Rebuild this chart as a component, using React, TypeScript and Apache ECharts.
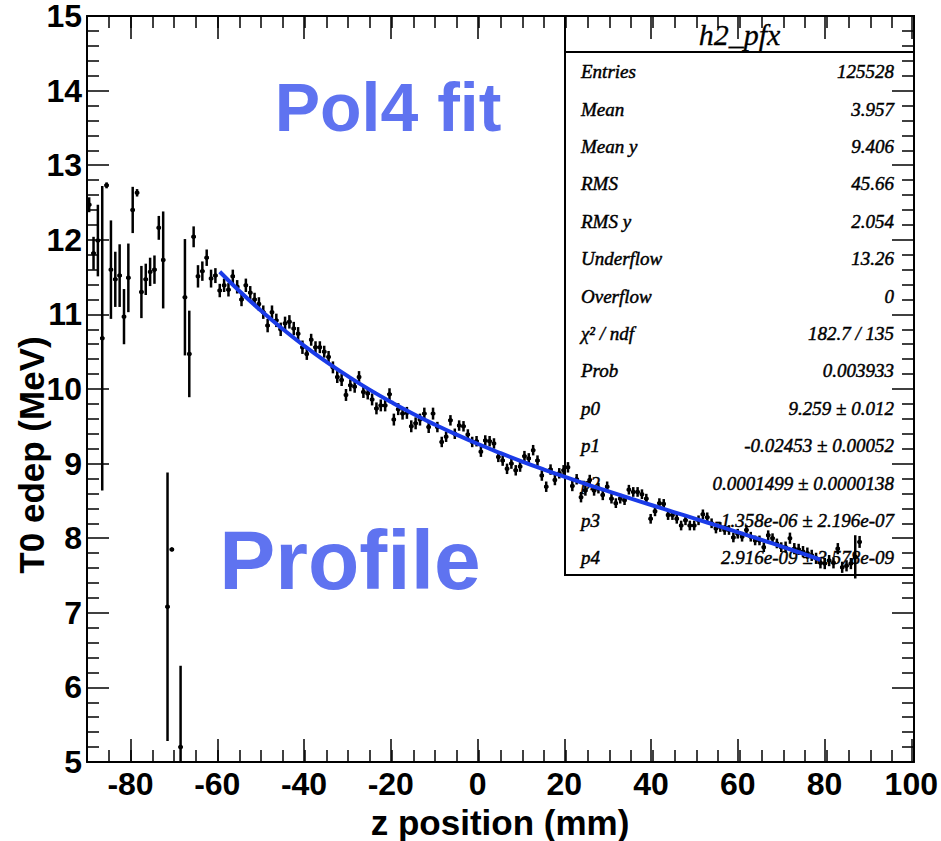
import React, { useEffect, useRef } from 'react';
import * as echarts from 'echarts';

// Profile bins (bin centre, mean, error)
const binX = [
  -89.5, -88.5, -87.5, -86.5, -85.5, -84.5, -83.5, -82.5, -81.5, -80.5,
  -79.5, -78.5, -77.5, -76.5, -75.5, -74.5, -73.5, -72.5, -71.5, -70.5,
  -68.5, -67.5, -66.5, -65.5, -64.5, -63.5, -62.5, -61.5, -60.5,
  -59.5, -58.5, -57.5, -56.5, -55.5, -54.5, -53.5, -52.5, -51.5, -50.5,
  -49.5, -48.5, -47.5, -46.5, -45.5, -44.5, -43.5, -42.5, -41.5, -40.5,
  -39.5, -38.5, -37.5, -36.5, -35.5, -34.5, -33.5, -32.5, -31.5, -30.5,
  -29.5, -28.5, -27.5, -26.5, -25.5, -24.5, -23.5, -22.5, -21.5, -20.5,
  -19.5, -18.5, -17.5, -16.5, -15.5, -14.5, -13.5, -12.5, -11.5, -10.5,
  -9.5, -8.5, -7.5, -6.5, -5.5, -4.5, -3.5, -2.5, -1.5, -0.5,
  0.5, 1.5, 2.5, 3.5, 4.5, 5.5, 6.5, 7.5, 8.5, 9.5,
  10.5, 11.5, 12.5, 13.5, 14.5, 15.5, 16.5, 17.5, 18.5, 19.5,
  20.5, 21.5, 22.5, 23.5, 24.5, 25.5, 26.5, 27.5, 28.5, 29.5,
  30.5, 31.5, 32.5, 33.5, 34.5, 35.5, 36.5, 37.5, 38.5, 39.5,
  40.5, 41.5, 42.5, 43.5, 44.5, 45.5, 46.5, 47.5, 48.5, 49.5,
  50.5, 51.5, 52.5, 53.5, 54.5, 55.5, 56.5, 57.5, 58.5, 59.5,
  60.5, 61.5, 62.5, 63.5, 64.5, 65.5, 66.5, 67.5, 68.5, 69.5,
  70.5, 71.5, 72.5, 73.5, 74.5, 75.5, 76.5, 77.5, 78.5, 79.5,
  80.5, 81.5, 82.5, 83.5, 84.5, 85.5, 86.5, 87.5,
];
const binY = [
  12.47, 11.82, 11.99, 10.68, 12.73, 11.60, 11.47, 11.52, 10.97, 11.49,
  12.40, 12.63, 11.30, 11.47, 11.57, 11.60, 12.16, 11.73, 7.08, 7.85,
  5.20, 11.23, 10.47, 12.04, 11.51, 11.58, 11.76, 11.48, 11.52,
  11.32, 11.39, 11.33, 11.51, 11.37, 11.20, 11.39, 11.29, 11.20, 11.14,
  11.03, 10.85, 11.03, 10.92, 10.80, 10.88, 10.90, 10.81, 10.74, 10.56,
  10.47, 10.66, 10.56, 10.56, 10.50, 10.43, 10.29, 10.16, 10.12, 9.92,
  10.05, 10.03, 10.16, 9.96, 9.94, 9.86, 9.74, 9.78, 9.78, 9.93,
  9.59, 9.73, 9.67, 9.68, 9.50, 9.54, 9.59, 9.67, 9.49, 9.67,
  9.49, 9.29, 9.36, 9.58, 9.40, 9.51, 9.50, 9.39, 9.29, 9.30,
  9.16, 9.31, 9.30, 9.27, 9.09, 9.04, 8.93, 9.00, 8.91, 8.96,
  9.10, 9.07, 9.18, 9.04, 8.84, 8.69, 8.92, 8.78, 8.87, 8.91,
  8.95, 8.70, 8.79, 8.55, 8.64, 8.78, 8.64, 8.67, 8.58, 8.69,
  8.53, 8.47, 8.53, 8.51, 8.65, 8.62, 8.62, 8.59, 8.53, 8.26,
  8.36, 8.47, 8.46, 8.31, 8.31, 8.26, 8.17, 8.24, 8.17, 8.17,
  8.24, 8.32, 8.28, 8.20, 8.13, 8.15, 8.11, 8.11, 8.01, 8.06,
  8.02, 8.11, 8.02, 7.97, 7.97, 7.88, 8.04, 8.00, 7.93, 7.88,
  7.88, 8.00, 7.86, 7.85, 7.82, 7.80, 7.77, 7.73, 7.67, 7.66,
  7.70, 7.67, 7.86, 7.61, 7.63, 7.66, 7.75, 7.95,
];
const binErr = [
  0.10, 0.22, 0.48, 2.04, 0.04, 0.66, 0.37, 0.42, 0.37, 0.46,
  0.31, 0.05, 0.35, 0.21, 0.19, 0.19, 0.16, 0.65, 1.80, 0.02,
  1.09, 0.78, 0.58, 0.14, 0.15, 0.13, 0.11, 0.12, 0.10,
  0.09, 0.09, 0.09, 0.09, 0.09, 0.09, 0.09, 0.09, 0.09, 0.09,
  0.09, 0.09, 0.09, 0.09, 0.09, 0.09, 0.09, 0.09, 0.09, 0.09,
  0.08, 0.08, 0.08, 0.08, 0.08, 0.08, 0.08, 0.08, 0.08, 0.08,
  0.08, 0.08, 0.08, 0.08, 0.08, 0.08, 0.08, 0.08, 0.08, 0.08,
  0.08, 0.08, 0.08, 0.08, 0.08, 0.08, 0.08, 0.08, 0.08, 0.08,
  0.07, 0.07, 0.07, 0.07, 0.07, 0.07, 0.07, 0.07, 0.07, 0.07,
  0.07, 0.07, 0.07, 0.07, 0.07, 0.07, 0.07, 0.07, 0.07, 0.07,
  0.07, 0.07, 0.07, 0.07, 0.07, 0.07, 0.07, 0.07, 0.07, 0.07,
  0.07, 0.07, 0.07, 0.07, 0.07, 0.07, 0.07, 0.07, 0.07, 0.07,
  0.065, 0.065, 0.065, 0.065, 0.065, 0.065, 0.065, 0.065, 0.065, 0.065,
  0.065, 0.065, 0.065, 0.065, 0.065, 0.065, 0.065, 0.065, 0.065, 0.065,
  0.065, 0.065, 0.065, 0.065, 0.065, 0.065, 0.065, 0.065, 0.065, 0.065,
  0.065, 0.065, 0.065, 0.065, 0.065, 0.065, 0.065, 0.065, 0.065, 0.065,
  0.075, 0.075, 0.075, 0.075, 0.075, 0.075, 0.075, 0.075, 0.075, 0.075,
  0.075, 0.075, 0.075, 0.075, 0.075, 0.075, 0.29, 0.08,
];

// Pol4 fit curve
const fitX = [-59.5, -55, -50, -45, -40, -35, -30, -25, -20, -15, -10, -5, 0, 5, 10, 15, 20, 25, 30, 35, 40, 45, 50, 55, 60, 65, 70, 75, 78.5];
const fitY = [11.572, 11.314, 11.048, 10.802, 10.574, 10.364, 10.169, 9.988, 9.821, 9.665, 9.521, 9.386, 9.259, 9.140, 9.027, 8.920, 8.818, 8.719, 8.624, 8.530, 8.438, 8.347, 8.256, 8.164, 8.071, 7.977, 7.881, 7.782, 7.711];

const statLabels = ['Entries', 'Mean', 'Mean y', 'RMS', 'RMS y', 'Underflow', 'Overflow', 'χ² / ndf', 'Prob', 'p0', 'p1', 'p2', 'p3', 'p4'];
const statValues = ['125528', '3.957', '9.406', '45.66', '2.054', '13.26', '0', '182.7 / 135', '0.003933', '9.259 ± 0.012', '-0.02453 ± 0.00052', '0.0001499 ± 0.0000138', '-1.358e-06 ± 2.196e-07', '2.916e-09 ± 3.578e-09'];

const X_MIN = -90;
const X_MAX = 100;
const GL = 87;
const GR = 27;
const GT = 16;
const GB = 79;

export default function App() {
  const ref = useRef<HTMLDivElement>(null);
  useEffect(() => {
    if (!ref.current) return;
    const chart = echarts.init(ref.current, null, { renderer: 'svg' });
    const plotW = 941 - GL - GR;
    const pxPerUnit = plotW / (X_MAX - X_MIN);
    const g2Left = GL + (-80 - X_MIN) * pxPerUnit;
    const black = '#000';
    const labelFont = { fontFamily: 'Liberation Sans', fontWeight: 'bold' as const, fontSize: 32, color: black };

    const pts = binX.map((x, i) => [x, binY[i], binErr[i]]);
    const fit = fitX.map((x, i) => [x, fitY[i]]);

    const statFont = 'italic 19px "Liberation Serif"';
    const graphics: any[] = [];
    const boxL = 565, boxR = 914, boxT = 16, boxB = 575;
    graphics.push({ type: 'rect', shape: { x: boxL, y: boxT, width: boxR - boxL, height: boxB - boxT }, style: { fill: 'none', stroke: black, lineWidth: 2 }, z: 0 });
    graphics.push({ type: 'line', shape: { x1: boxL, y1: 52, x2: boxR, y2: 52 }, style: { stroke: black, lineWidth: 2 }, z: 0 });
    graphics.push({ type: 'text', x: (boxL + boxR) / 2, y: 34, style: { text: 'h2_pfx', font: 'italic 30px "Liberation Serif"', fill: black, stroke: black, lineWidth: 0.3, align: 'center', verticalAlign: 'middle', textAlign: 'center', textVerticalAlign: 'middle' }, z: 0 });
    statLabels.forEach((lab, i) => {
      const y = 71.7 + i * 37.4;
      graphics.push({ type: 'text', x: 581, y, style: { text: lab, font: statFont, fill: black, stroke: black, lineWidth: 0.45, align: 'left', verticalAlign: 'middle', textAlign: 'left', textVerticalAlign: 'middle' }, z: 0 });
      graphics.push({ type: 'text', x: 894, y, style: { text: statValues[i], font: statFont, fill: black, stroke: black, lineWidth: 0.45, align: 'right', verticalAlign: 'middle', textAlign: 'right', textVerticalAlign: 'middle' }, z: 0 });
    });
    graphics.push({ type: 'text', x: 388, y: 107, style: { text: 'Pol4 fit', font: 'bold 68px "Liberation Sans"', fill: '#5f73f0', align: 'center', verticalAlign: 'middle', textAlign: 'center', textVerticalAlign: 'middle' }, z: 0 });
    graphics.push({ type: 'text', x: 350, y: 560, style: { text: 'Profile', font: 'bold 84px "Liberation Sans"', fill: '#5f73f0', align: 'center', verticalAlign: 'middle', textAlign: 'center', textVerticalAlign: 'middle' }, z: 0 });
    graphics.push({ type: 'text', x: 500, y: 822, style: { text: 'z position (mm)', font: 'bold 35px "Liberation Sans"', fill: black, align: 'center', verticalAlign: 'middle', textAlign: 'center', textVerticalAlign: 'middle' }, z: 0 });
    graphics.push({ type: 'text', x: 31, y: 455, rotation: Math.PI / 2, style: { text: 'T0 edep (MeV)', font: 'bold 35px "Liberation Sans"', fill: black, align: 'center', verticalAlign: 'middle', textAlign: 'center', textVerticalAlign: 'middle' }, z: 0 });

    const tickStyle = { color: black, width: 1.5 };

    chart.setOption({
      animation: false,
      backgroundColor: '#fff',
      grid: [
        { left: GL, right: GR, top: GT, bottom: GB },
        { left: g2Left, right: GR, top: GT, bottom: GB },
      ],
      xAxis: [
        { type: 'value', gridIndex: 0, position: 'bottom', min: X_MIN, max: X_MAX, interval: 5,
          axisLine: { show: true, onZero: false, lineStyle: { color: black, width: 2 } },
          axisTick: { show: true, inside: true, length: 12, lineStyle: tickStyle },
          axisLabel: { show: false }, splitLine: { show: false } },
        { type: 'value', gridIndex: 0, position: 'top', min: X_MIN, max: X_MAX, interval: 5,
          axisLine: { show: true, onZero: false, lineStyle: { color: black, width: 2 } },
          axisTick: { show: true, inside: true, length: 12, lineStyle: tickStyle },
          axisLabel: { show: false }, splitLine: { show: false } },
        { type: 'value', gridIndex: 1, position: 'bottom', min: -80, max: X_MAX, interval: 20,
          axisLine: { show: false, onZero: false },
          axisTick: { show: true, inside: true, length: 23, lineStyle: tickStyle },
          axisLabel: { show: true, margin: 6, ...labelFont }, splitLine: { show: false } },
        { type: 'value', gridIndex: 1, position: 'top', min: -80, max: X_MAX, interval: 20,
          axisLine: { show: false, onZero: false },
          axisTick: { show: true, inside: true, length: 23, lineStyle: tickStyle },
          axisLabel: { show: false }, splitLine: { show: false } },
      ],
      yAxis: [
        { type: 'value', gridIndex: 0, position: 'left', min: 5, max: 15, interval: 1,
          axisLine: { show: true, onZero: false, lineStyle: { color: black, width: 2 } },
          axisTick: { show: true, inside: true, length: 22, lineStyle: tickStyle },
          minorTick: { show: true, splitNumber: 5, length: 12, lineStyle: tickStyle },
          axisLabel: { show: true, margin: 5, ...labelFont }, splitLine: { show: false } },
        { type: 'value', gridIndex: 0, position: 'right', min: 5, max: 15, interval: 1,
          axisLine: { show: true, onZero: false, lineStyle: { color: black, width: 2 } },
          axisTick: { show: true, inside: true, length: 22, lineStyle: tickStyle },
          minorTick: { show: true, splitNumber: 5, length: 12, lineStyle: tickStyle },
          axisLabel: { show: false }, splitLine: { show: false } },
        { type: 'value', gridIndex: 1, show: false, min: 5, max: 15 },
      ],
      graphic: graphics,
      series: [
        {
          type: 'custom', xAxisIndex: 0, yAxisIndex: 0, z: 3, clip: true,
          data: pts,
          renderItem: (params: any, api: any) => {
            const x = api.value(0), y = api.value(1), e = api.value(2);
            const p = api.coord([x, y]);
            const t = api.coord([x, y + e]);
            const b = api.coord([x, y - e]);
            const l = api.coord([x - 0.5, y]);
            const r = api.coord([x + 0.5, y]);
            return {
              type: 'group',
              children: [
                { type: 'line', shape: { x1: p[0], y1: t[1], x2: p[0], y2: b[1] }, style: { stroke: black, lineWidth: 2.5 } },
                { type: 'line', shape: { x1: l[0], y1: p[1], x2: r[0], y2: p[1] }, style: { stroke: black, lineWidth: 2.5 } },
                { type: 'circle', shape: { cx: p[0], cy: p[1], r: 2.3 }, style: { fill: black } },
              ],
            };
          },
        },
        {
          type: 'line', xAxisIndex: 0, yAxisIndex: 0, z: 4, data: fit, smooth: true,
          symbol: 'none', lineStyle: { color: '#1a3be8', width: 4 },
        },
      ],
    });
    return () => chart.dispose();
  }, []);
  return <div ref={ref} style={{ position: 'absolute', left: 0, top: 0, width: 941, height: 841 }} />;
}
